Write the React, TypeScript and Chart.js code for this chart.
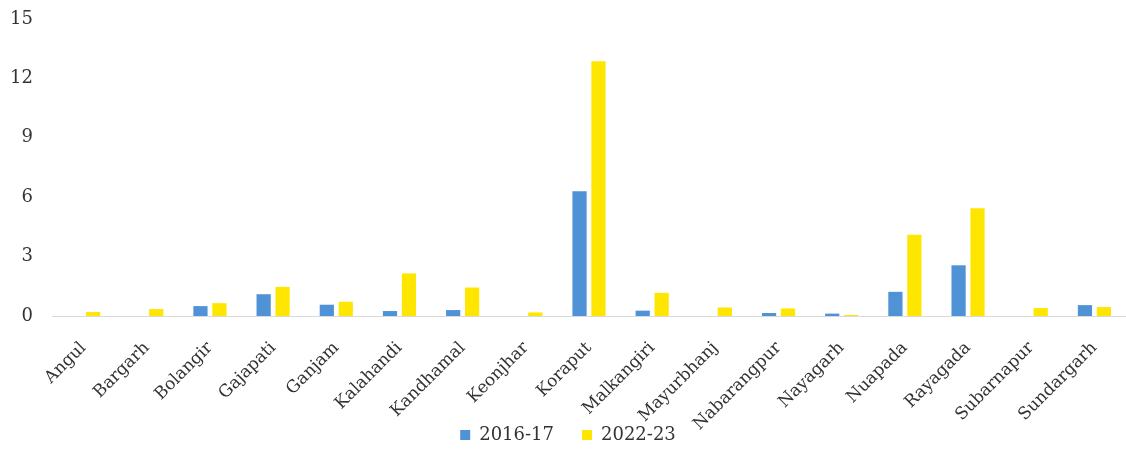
import React, { useEffect, useRef } from "react";
import { Chart, registerables } from "chart.js";

Chart.register(...registerables);

const districts = [
  "Angul", "Bargarh", "Bolangir", "Gajapati", "Ganjam", "Kalahandi", "Kandhamal",
  "Keonjhar", "Koraput", "Malkangiri", "Mayurbhanj", "Nabarangpur", "Nayagarh",
  "Nuapada", "Rayagada", "Subarnapur", "Sundargarh",
];
const values2016 = [0, 0, 0.5, 1.1, 0.57, 0.25, 0.3, 0, 6.3, 0.27, 0, 0.15, 0.12, 1.22, 2.56, 0, 0.55];
const values2022 = [0.2, 0.35, 0.65, 1.47, 0.72, 2.15, 1.44, 0.18, 12.86, 1.17, 0.43, 0.38, 0.05, 4.1, 5.44, 0.4, 0.45];
const seriesLabels = ["2016-17", "2022-23"];
const yTicks = [0, 3, 6, 9, 12, 15];

const FONT = "'DejaVu Serif', serif";

export default function App() {
  const ref = useRef<HTMLCanvasElement | null>(null);
  useEffect(() => {
    document.body.style.margin = "0";
    const chart = new Chart(ref.current!, {
      type: "bar",
      data: {
        labels: districts,
        datasets: [
          { label: seriesLabels[0], data: values2016, backgroundColor: "#4f92d6", categoryPercentage: 0.6, barPercentage: 0.75 },
          { label: seriesLabels[1], data: values2022, backgroundColor: "#ffe600", categoryPercentage: 0.6, barPercentage: 0.75 },
        ],
      },
      options: {
        animation: false,
        responsive: false,
        layout: { padding: { top: 0, left: 10, right: 0, bottom: -4 } },
        plugins: {
          legend: {
            position: "bottom",
            labels: {
              font: { family: FONT, size: 18 },
              color: "#333",
              boxWidth: 10,
              boxHeight: 10,
              padding: 28,
            },
          },
          tooltip: { enabled: false },
        },
        scales: {
          x: {
            grid: { display: false, drawTicks: false },
            border: { display: true, color: "#d9d9d9", width: 1 },
            afterFit: (scale: any) => {
              scale.height = 82;
              scale.paddingLeft = 0;
              scale.paddingRight = 0;
              // let the rotated labels run below the axis box, as in the reference
              scale._computeLabelArea = () => undefined;
            },
            ticks: {
              font: { family: FONT, size: 17 },
              color: "#333",
              minRotation: 45,
              maxRotation: 45,
              autoSkip: false,
              padding: 22,
            },
          },
          y: {
            min: 0,
            max: 15,
            afterBuildTicks: (axis: any) => {
              axis.ticks = yTicks.map((v) => ({ value: v }));
            },
            afterFit: (scale: any) => {
              scale.width = 42;
              scale.paddingTop = 19;
              scale.paddingBottom = 9;
            },
            grid: { display: false, drawTicks: false },
            border: { display: false },
            ticks: {
              font: { family: FONT, size: 18 },
              color: "#333",
              padding: 19,
            },
          },
        },
      },
    });
    return () => chart.destroy();
  }, []);
  return (
    <div style={{ width: 1126, height: 450 }}>
      <canvas ref={ref} width={1126} height={450} />
    </div>
  );
}
